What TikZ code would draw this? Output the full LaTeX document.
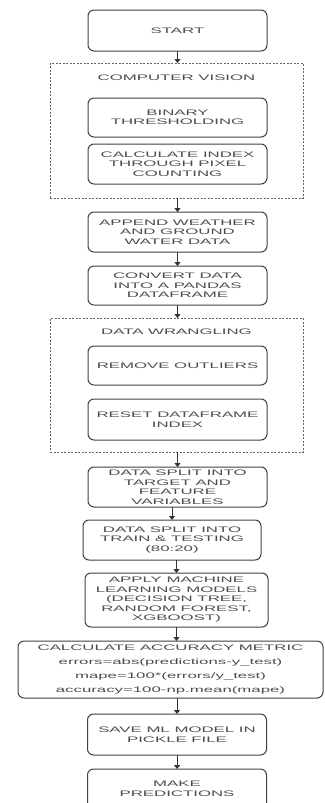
\documentclass[tikz,border=0pt]{standalone}
\usepackage{fontspec}
\usetikzlibrary{positioning, arrows.meta, fit}
\newfontfamily\flowfont[FakeStretch=2.1]{Liberation Sans}

\begin{document}
\begin{tikzpicture}[node distance={14pt},
		box/.style = {draw=black!75, line width=1pt, rounded corners=6pt, align=center, minimum width=179pt, minimum height=40pt, inner sep=0pt, outer sep=0pt, text=black!70, font=\flowfont\fontsize{8}{9.5}\selectfont},
		group/.style = {draw=black!60, line width=1pt, dash pattern=on 2pt off 1.5pt, inner sep=0pt, outer sep=0pt},
		grouptitle/.style = {text=black!70, font=\flowfont\fontsize{8}{9.5}\selectfont},
		flow/.style = {draw=black!80, line width=1pt, -{Triangle[width=6pt,length=4pt]}}]
			\useasboundingbox (0pt,0pt) rectangle (324pt,-803pt);
			
			\node[box, minimum height=41pt] (start) at (177.5pt,-30.5pt) {START};
			
			% computer vision block
			\node[box, minimum height=39pt, below = 47pt of start] (cvbin) {BINARY\\THRESHOLDING};
			\node[box, below = 7pt of cvbin] (cvidx) {CALCULATE INDEX\\THROUGH PIXEL\\COUNTING};
			\coordinate[above left = 35pt and 38pt of cvbin.north west] (cvtl);
			\coordinate[below right = 14pt and 36pt of cvidx.south east] (cvbr);
			\node[group, fit = (cvtl) (cvbr)] (cv) {};
			\node[grouptitle, yshift = -15pt] (cvtitle) at (cv.north) {COMPUTER VISION};
			
			\node[box, below = 28pt of cvidx] (append) {APPEND WEATHER\\AND GROUND\\WATER DATA};
			\node[box, minimum height=39pt, below = 14pt of append] (convert) {CONVERT DATA\\INTO A PANDAS\\DATAFRAME};
			
			% data wrangling block
			\node[box, minimum height=39pt, below = 41pt of convert] (outliers) {REMOVE OUTLIERS};
			\node[box, minimum height=41pt, below = 14pt of outliers] (reset) {RESET DATAFRAME\\INDEX};
			\coordinate[above left = 28pt and 38pt of outliers.north west] (dwtl);
			\coordinate[below right = 12pt and 36pt of reset.south east] (dwbr);
			\node[group, fit = (dwtl) (dwbr)] (dw) {};
			\node[grouptitle, yshift = -14pt] (dwtitle) at (dw.north) {DATA WRANGLING};
			
			\node[box, below = 27pt of reset] (target) {DATA SPLIT INTO\\TARGET AND\\FEATURE\\VARIABLES};
			\node[box, minimum width=178pt, below = 13pt of target, xshift = -5.5pt] (train) {DATA SPLIT INTO\\TRAIN \& TESTING\\(80:20)};
			\node[box, minimum width=183pt, minimum height=54pt, below = 13pt of train, xshift = 4.5pt] (apply) {APPLY MACHINE\\LEARNING MODELS\\(DECISION TREE,\\RANDOM FOREST,\\XGBOOST)};
			\node[box, minimum width=305pt, minimum height=57pt, below = 14pt of apply, xshift = -6pt, font=\flowfont\fontsize{8}{14}\selectfont] (accuracy) {CALCULATE ACCURACY METRIC\\errors=abs(predictions-y\_test)\\mape=100*(errors/y\_test)\\accuracy=100-np.mean(mape)};
			\node[box, minimum height=41pt, below = 16pt of accuracy, xshift = 6.5pt] (save) {SAVE ML MODEL IN\\PICKLE FILE};
			\node[box, below = 14pt of save] (predict) {MAKE\\PREDICTIONS};
			
			\draw[flow] (start) -- (start |- cv.north);
			\draw[flow] (cv.south -| append) -- (append);
			\draw[flow] (append) -- (convert);
			\draw[flow] (convert) -- (convert |- dw.north);
			\draw[flow] (dw.south -| target) -- (target);
			\draw[flow] (target.south -| train) -- (train);
			\draw[flow] (train.south -| apply) -- (apply);
			\draw[flow] (apply.south) -- (apply.south |- accuracy.north);
			\draw[flow] (accuracy.south -| save) -- (save);
			\draw[flow] (save) -- (predict);
		\end{tikzpicture}
\end{document}
